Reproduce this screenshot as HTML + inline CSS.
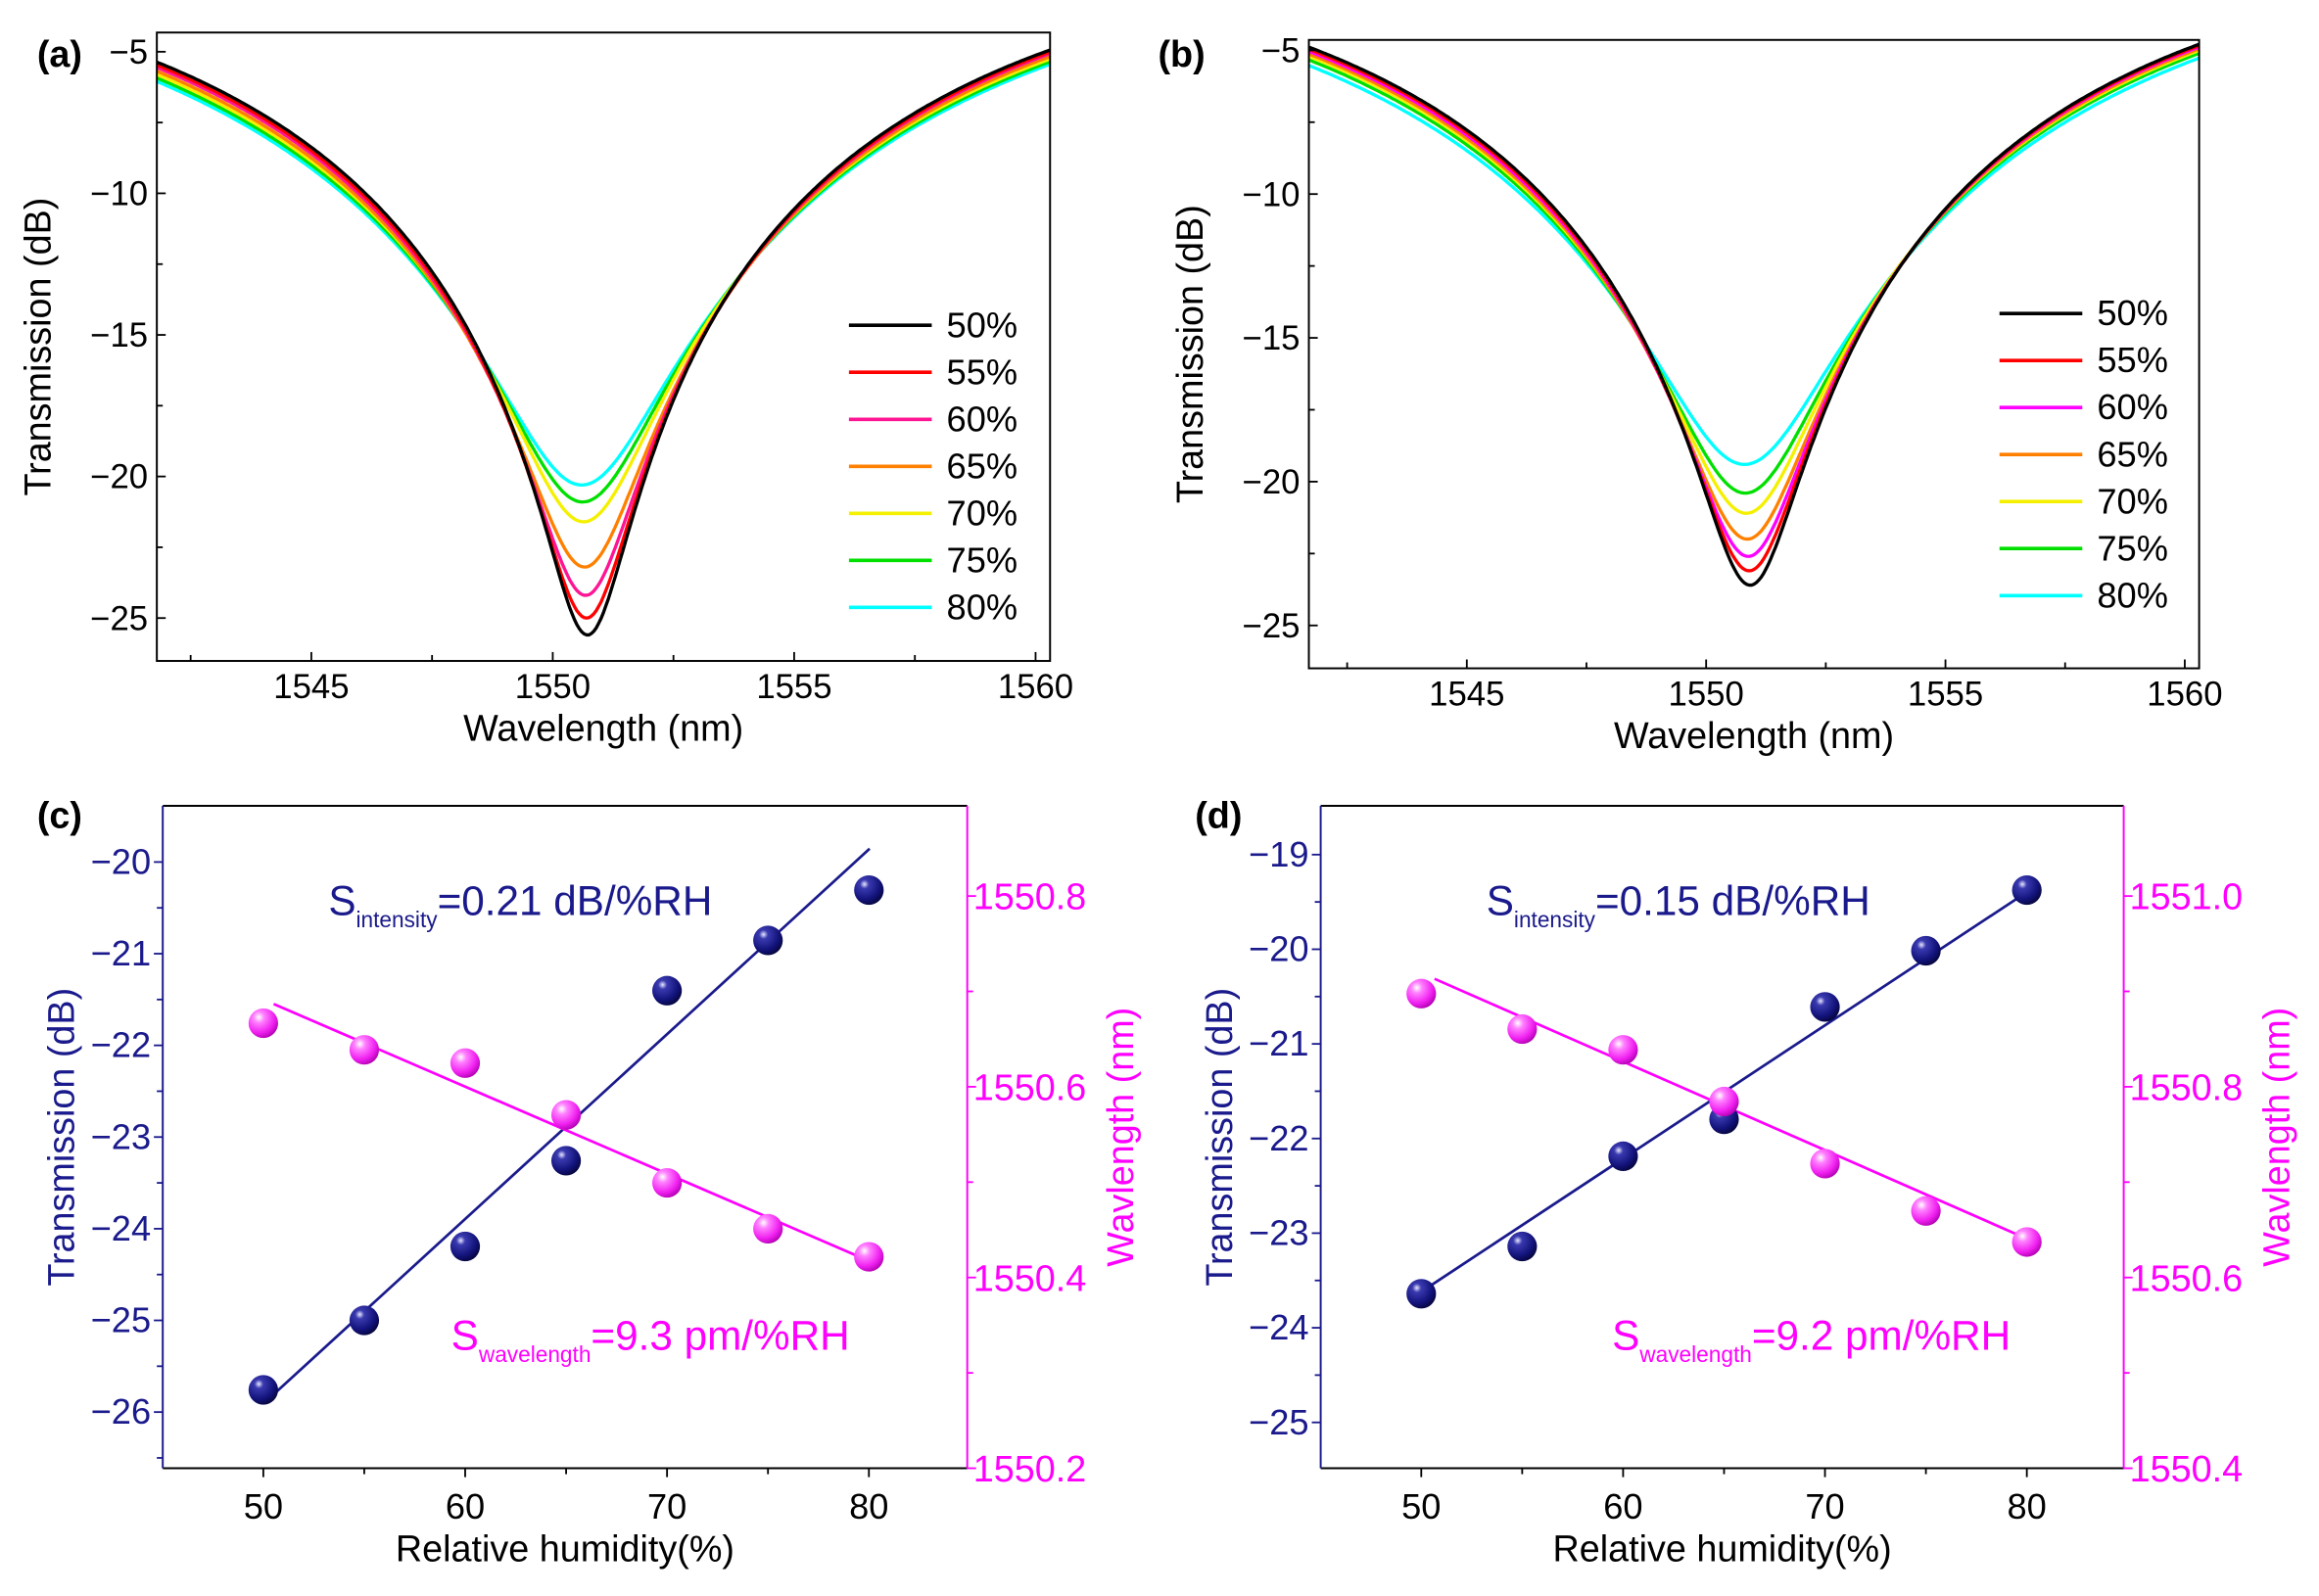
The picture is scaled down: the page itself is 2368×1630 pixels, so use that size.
<!DOCTYPE html>
<html><head><meta charset="utf-8"><style>html,body{margin:0;padding:0;background:#fff}svg{display:block}</style></head>
<body>
<svg id="s" xmlns="http://www.w3.org/2000/svg" width="2368" height="1630" viewBox="0 0 1568 1079.4" font-family="Liberation Sans, Arial, sans-serif">
<defs>
<radialGradient id="gb" cx="0.35" cy="0.3" r="0.75"><stop offset="0" stop-color="#e8e8ff"/><stop offset="0.2" stop-color="#3a3ab0"/><stop offset="0.7" stop-color="#12127a"/><stop offset="1" stop-color="#05053a"/></radialGradient>
<radialGradient id="gp" cx="0.35" cy="0.3" r="0.75"><stop offset="0" stop-color="#ffffff"/><stop offset="0.25" stop-color="#ff80ff"/><stop offset="0.7" stop-color="#f020f0"/><stop offset="1" stop-color="#b000b0"/></radialGradient>
</defs>
</svg>
<script>
var s=document.getElementById('s'),out='';
function L(x1,y1,x2,y2,c,w){out+='<line x1="'+x1+'" y1="'+y1+'" x2="'+x2+'" y2="'+y2+'" stroke="'+c+'" stroke-width="'+(w||1.2)+'"/>';}
function T(x,y,t,o){o=o||{};out+='<text x="'+x+'" y="'+y+'" font-size="'+(o.fs||22)+'" fill="'+(o.c||'#000')+'" text-anchor="'+(o.a||'middle')+'"'+(o.fw?' font-weight="bold"':'')+(o.tr?' transform="'+o.tr+'"':'')+'>'+t+'</text>';}
var cols=['#000000','#ff0000','#ff1493','#ff8000','#f4f000','#00e000','#00ffff'];
var cols2=['#000000','#ff0000','#ff00ff','#ff8000','#f4f000','#00e000','#00ffff'];
var labs=['50%','55%','60%','65%','70%','75%','80%'];
function spec(bx0,bx1,by0,by1,xl0,xl1,ymAt5,ymAt25,lam0s,mins,ws,cc,legX,legY0,tag,tagX){
  function X(l){return bx0+(l-xl0)/(xl1-xl0)*(bx1-bx0);}
  var k=(ymAt25-ymAt5)/20;function Y(v){return ymAt5+(-5-v)*k;}
  out+='<clipPath id="c'+tag+'"><rect x="'+bx0+'" y="'+by0+'" width="'+(bx1-bx0)+'" height="'+(by1-by0)+'"/></clipPath>';
  for(var i=6;i>=0;i--){
    var tmin=Math.pow(10,mins[i]/10),d=1-tmin,w=ws[i],p='';
    for(var l=xl0;l<=xl1+0.01;l+=0.05){var x=(l-lam0s[i])/w;var t=1-d/(1+x*x);var v=10*Math.log10(t);p+=(p?'L':'M')+X(l).toFixed(1)+','+Y(v).toFixed(1);}
    out+='<path d="'+p+'" fill="none" stroke="'+cc[i]+'" stroke-width="2.2" clip-path="url(#c'+tag+')"/>';
  }
  out+='<rect x="'+bx0+'" y="'+by0+'" width="'+(bx1-bx0)+'" height="'+(by1-by0)+'" fill="none" stroke="#000" stroke-width="1.3"/>';
  for(var l=1542.5;l<=1560;l+=2.5){var mj=(l%5==0);L(X(l),by1,X(l),by1-(mj?6:4),'#000');if(mj)T(X(l),by1+25,l,{fs:23});}
  for(var v=-5;v>=-25;v-=2.5){var y=Y(v);if(y<by0||y>by1)continue;var mj=(v%5==0);L(bx0,y,bx0+(mj?6:4),y,'#000');if(mj)T(bx0-6,y+8,'\u2212'+(-v),{a:'end',fs:23});}
  T((bx0+bx1)/2,by1+54,'Wavelength (nm)',{fs:25});
  T(0,0,'Transmission (dB)',{fs:25,tr:'translate('+(bx0-72)+','+((by0+by1)/2)+') rotate(-90)'});
  for(var i=0;i<7;i++){var y=legY0+i*31.8;L(legX,y,legX+56,y,cc[i],2.4);T(legX+66,y+8,labs[i],{a:'start',fs:24});}
  T(tagX,45,'('+tag+')',{fw:1,fs:25,a:'start'});
}
spec(106,710,22,447,1541.8,1560.3,35,418,[1550.72,1550.7,1550.68,1550.66,1550.64,1550.62,1550.6],[-25.6,-25.0,-24.2,-23.2,-21.6,-20.9,-20.3],[14,14.2,14.4,14.7,15,15.3,15.6],cols,574,220,'a',25);
spec(885,1487,27,452,1541.7,1560.3,34,423,[1550.92,1550.9,1550.88,1550.86,1550.84,1550.82,1550.8],[-23.6,-23.1,-22.6,-22.0,-21.1,-20.4,-19.4],[13.4,13.55,13.7,13.9,14.1,14.4,14.9],cols2,1352,212,'b',783);
function sens(bx0,bx1,by0,by1,lt,lTop,lStep,rl,rStep,blueY,pinkY,bl,pl,txt1,txt2,t1x,t2x,tag,tagX){
  var nv='#1a1a8c',mg='#ff00ff';
  function X(h){return bx0+68+(h-50)*13.65;}
  L(bx0,by0,bx1,by0,'#000',1.3);L(bx0,by1,bx1,by1,'#000',1.3);L(bx0,by0,bx0,by1,nv,1.3);L(bx1,by0,bx1,by1,mg,1.3);
  for(var h=50;h<=80;h+=5){L(X(h),by1,X(h),by1+(h%10==0?6:4),'#000');if(h%10==0)T(X(h),by1+34,h,{fs:24});}
  for(var i=0;i<lt.length;i++){var y=lTop+i*lStep;L(bx0,y,bx0-6,y,nv);T(bx0-8,y+8,'\u2212'+lt[i],{a:'end',c:nv,fs:24});if(y+lStep/2<by1)L(bx0,y+lStep/2,bx0-4,y+lStep/2,nv);}
  for(var i=0;i<rl.length;i++){var y=by1-i*rStep;L(bx1,y,bx1+6,y,mg);T(bx1+4,y+9,rl[i],{a:'start',c:mg,fs:25});if(i<rl.length-1)L(bx1,y-rStep/2,bx1+4,y-rStep/2,mg);}
  out+='<line x1="'+bl[0]+'" y1="'+bl[1]+'" x2="'+bl[2]+'" y2="'+bl[3]+'" stroke="'+nv+'" stroke-width="1.8"/>';
  out+='<line x1="'+pl[0]+'" y1="'+pl[1]+'" x2="'+pl[2]+'" y2="'+pl[3]+'" stroke="'+mg+'" stroke-width="1.8"/>';
  for(var i=0;i<7;i++){out+='<circle cx="'+X(50+5*i)+'" cy="'+blueY[i]+'" r="10" fill="url(#gb)"/>';}
  for(var i=0;i<7;i++){out+='<circle cx="'+X(50+5*i)+'" cy="'+pinkY[i]+'" r="10" fill="url(#gp)"/>';}
  out+='<text x="'+t1x+'" y="619" font-size="28" fill="'+nv+'">S<tspan font-size="15" dy="8">intensity</tspan><tspan dy="-8">'+txt1+'</tspan></text>';
  out+='<text x="'+t2x+'" y="913" font-size="28" fill="'+mg+'">S<tspan font-size="15" dy="8">wavelength</tspan><tspan dy="-8">'+txt2+'</tspan></text>';
  T((bx0+bx1)/2,by1+63,'Relative humidity(%)',{fs:25});
  T(0,0,'Transmission (dB)',{fs:25,c:nv,tr:'translate('+(bx0-60)+','+((by0+by1)/2)+') rotate(-90)'});
  T(0,0,'Wavlength (nm)',{fs:25,c:mg,tr:'translate('+(bx1+112)+','+((by0+by1)/2)+') rotate(-90)'});
  T(tagX,560,'('+tag+')',{fw:1,fs:25,a:'start'});
}
sens(110,654,545,993,[20,21,22,23,24,25,26],583,62,['1550.2','1550.4','1550.6','1550.8'],129,[940,893,843,785,670,636,602],[692,710,719,754,800,831,850],[185,943,588,574],[185,679,588,853],'=0.21 dB/%RH','=9.3 pm/%RH',222,305,'c',25);
sens(893,1436,545,993,[19,20,21,22,23,24,25],578,64,['1550.4','1550.6','1550.8','1551.0'],129,[875,843,782,757,681,643,602],[672,696,710,745,787,819,840],[962,873,1371,603],[970,662,1371,838],'=0.15 dB/%RH','=9.2 pm/%RH',1005,1090,'d',808);
s.insertAdjacentHTML('beforeend',out);
</script>
</body></html>
